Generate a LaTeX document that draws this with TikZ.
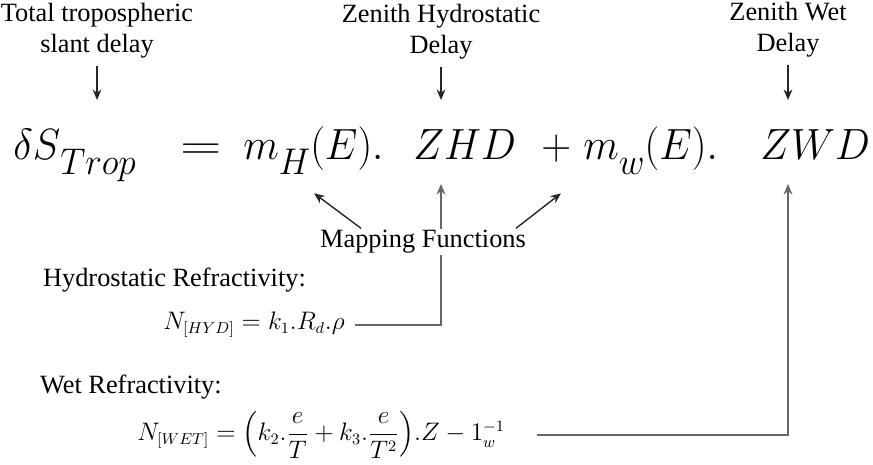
\documentclass[tikz,border=0pt]{standalone}
\usepackage{fontspec}
\setmainfont{Liberation Serif}
\newfontfamily\lblfont{Liberation Serif}
\usepackage{amsmath}
\usetikzlibrary{arrows.meta,calc}

\newcommand{\bigeq}[1]{\scalebox{0.95}[1]{$#1$}}
\newcommand{\lowsub}[1]{\raisebox{-0.22em}{\scalebox{0.85}{$\scriptstyle #1$}}}

\tikzset{
  lbl/.style={font=\lblfont\fontsize{15}{17.5}\selectfont, align=center, inner sep=1pt},
  eqn/.style={font=\fontsize{37}{40}\selectfont, anchor=base west, inner sep=0pt},
  smalleq/.style={font=\fontsize{13.5}{15}\selectfont, anchor=base west, inner sep=0pt},
  arr/.style={-{Stealth[length=6pt,width=5pt]}, line width=0.8pt, black!85},
  link/.style={-{Stealth[length=6pt,width=5pt]}, line width=1.1pt, black!60},
}

\begin{document}
\begin{tikzpicture}[x=0.02cm, y=-0.02cm]
    \useasboundingbox (0,0) rectangle (873,465);
    \coordinate (tiprow) at (0,100);
    \coordinate (lowrow) at (0,184);

    % labels on top
    \node[lbl] (totlbl) at (97,31) {Total tropospheric\\slant delay};
    \node[lbl] (zhdlbl) at (441,32) {Zenith Hydrostatic\\Delay};
    \node[lbl] (zwdlbl) at (788,30) {Zenith Wet\\Delay};

    % main equation, piece by piece
    \node[eqn] (lhs) at (13,160) {\bigeq{\delta S\lowsub{Trop}}};
    \node[eqn] (eqsign) at (180,160) {\scalebox{1.3}[1]{$=$}};
    \node[eqn] (mH) at (243,160) {\bigeq{m\lowsub{H}(E).}};
    \node[eqn] (zhd) at (413,160) {\bigeq{ZHD}};
    \node[eqn] (plus) at (541,160) {\bigeq{+}};
    \node[eqn] (mw) at (583,160) {\bigeq{m\lowsub{w}(E).}};
    \node[eqn] (zwd) at (760,160) {\bigeq{ZWD}};

    \draw[arr, shorten <=3pt] (totlbl.south) -- (totlbl.south |- tiprow);
    \draw[arr, shorten <=3pt] (zhdlbl.south) -- (zhdlbl.south |- tiprow);
    \draw[arr, shorten <=3pt] (zwdlbl.south) -- (zwdlbl.south |- tiprow);

    % refractivities
    \node[lbl, anchor=west] (hydtxt) at (41,280) {Hydrostatic Refractivity:};
    \node[smalleq] (hyd) at (163,330) {$N_{[HYD]} = k_1.R_d.\rho$};
    \node[lbl, anchor=west] (wettxt) at (38,387) {Wet Refractivity:};
    \node[smalleq] (wet) at (137,441)
        {$N_{[WET]} = \Bigl(k_2.\dfrac{e}{T} + k_3.\dfrac{e}{T^2}\Bigr).Z - 1_w^{-1}$};

    \draw[link, shorten <=6pt] (hyd.east) -| (zhdlbl.south |- lowrow);
    \draw[link, shorten <=18pt] (wet.east) -| (zwdlbl.south |- lowrow);

    % mapping functions
    \node[lbl, fill=white] (mapfn) at (423,242) {Mapping Functions};
    \draw[arr] ($(mapfn.north west)+(43,0)$) -- ++(-47,-35);
    \draw[arr] ($(mapfn.north east)+(-12,0)$) -- ++(45,-35);
\end{tikzpicture}
\end{document}
